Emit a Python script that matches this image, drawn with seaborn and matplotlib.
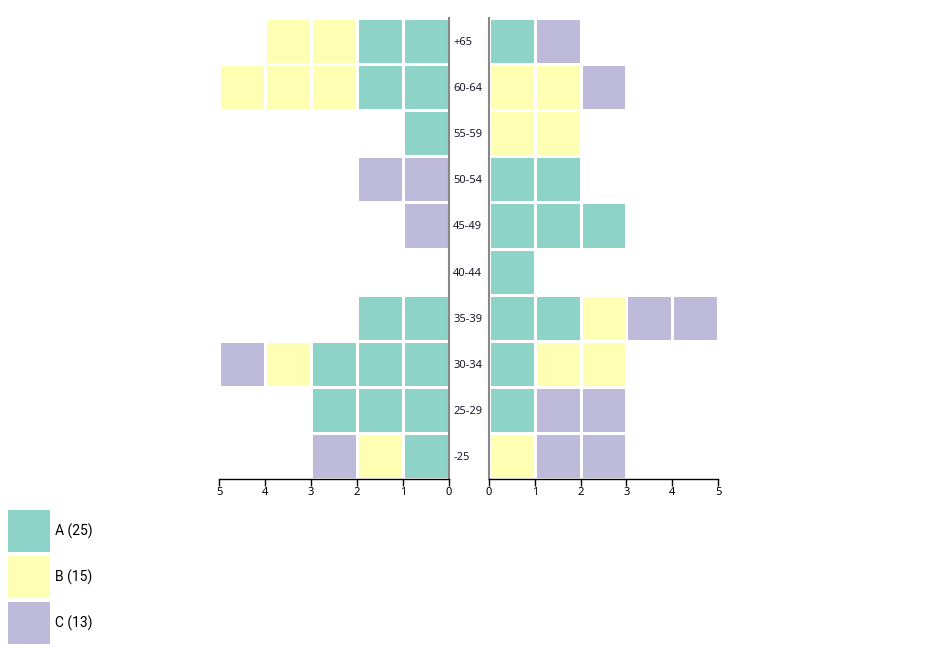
#!/usr/bin/env python3
"""Unit pyramid: counts per age group, one square per person, split left/right."""
import matplotlib
import numpy as np
import pandas as pd

matplotlib.use("Agg")
import matplotlib.pyplot as plt  # noqa: E402
from matplotlib.colors import ListedColormap  # noqa: E402
import seaborn as sns  # noqa: E402

AGE_GROUPS = ["+65", "60-64", "55-59", "50-54", "45-49",
              "40-44", "35-39", "30-34", "25-29", "-25"]
CATEGORIES = ["A", "B", "C"]
# squares per row, listed from the centre line outwards
LEFT_UNITS = [["A", "A", "B", "B"], ["A", "A", "B", "B", "B"], ["A"],
              ["C", "C"], ["C"], [], ["A", "A"], ["A", "A", "A", "B", "C"],
              ["A", "A", "A"], ["A", "B", "C"]]
RIGHT_UNITS = [["A", "C"], ["B", "B", "C"], ["B", "B"], ["A", "A"],
               ["A", "A", "A"], ["A"], ["A", "A", "B", "C", "C"],
               ["A", "B", "B"], ["A", "C", "C"], ["B", "C", "C"]]
MAX_UNITS = 5

sns.set_style("white")
plt.rcParams["font.family"] = ["Noto Sans", "DejaVu Sans"]

colours = sns.color_palette("Set3", 3)
cmap = ListedColormap(colours)
code = {c: i for i, c in enumerate(CATEGORIES)}


def unit_grid(units, mirror):
    grid = np.full((len(units), MAX_UNITS), np.nan)
    for r, row in enumerate(units):
        for i, cat in enumerate(row):
            col = MAX_UNITS - 1 - i if mirror else i
            grid[r, col] = code[cat]
    return pd.DataFrame(grid, index=AGE_GROUPS)


def style_axis(ax, ticklabels, zero_side):
    for side in ("top", "left", "right", "bottom"):
        ax.spines[side].set_visible(False)
    ax.spines["bottom"].set_visible(True)
    ax.spines["bottom"].set_color("black")
    ax.spines["bottom"].set_linewidth(1.0)
    ax.spines[zero_side].set_visible(True)
    ax.spines[zero_side].set_color("#888888")
    ax.spines[zero_side].set_linewidth(1.5)
    ax.set_xticks(range(MAX_UNITS + 1))
    ax.set_xticklabels(ticklabels, rotation=0, fontsize=8, color="black")
    ax.tick_params(axis="x", bottom=True, length=5, width=1, pad=1,
                   color="black")
    ax.set_xlabel("")
    ax.set_ylabel("")


fig = plt.figure(figsize=(9.38, 6.51), dpi=100)
ax_l = fig.add_axes([219 / 938, 172 / 651, 230 / 938, 461 / 651])
ax_r = fig.add_axes([489 / 938, 172 / 651, 229 / 938, 461 / 651])

hm_kw = dict(cmap=cmap, vmin=-0.5, vmax=2.5, cbar=False,
             linewidths=1.0, linecolor="white")
sns.heatmap(unit_grid(LEFT_UNITS, True), ax=ax_l, **hm_kw)
sns.heatmap(unit_grid(RIGHT_UNITS, False), ax=ax_r, **hm_kw)

style_axis(ax_l, [str(MAX_UNITS - i) for i in range(MAX_UNITS + 1)], "right")
style_axis(ax_r, [str(i) for i in range(MAX_UNITS + 1)], "left")

# age labels sit in the gap between the two halves
ax_l.yaxis.tick_right()
ax_l.set_yticklabels(AGE_GROUPS, rotation=0, fontsize=8, color="#1a1a2e")
ax_l.tick_params(axis="y", length=0, pad=3)
for lab in ax_l.get_yticklabels():
    lab.set_horizontalalignment("left")
ax_r.set_yticks([])

# legend: one square per category with its total
totals = {c: sum(row.count(c) for row in LEFT_UNITS + RIGHT_UNITS)
          for c in CATEGORIES}
ax_leg = fig.add_axes([6 / 938, 5 / 651, 46 / 938, 138 / 651])
sns.heatmap(pd.DataFrame({"k": range(len(CATEGORIES))}), ax=ax_leg,
            cmap=cmap, vmin=-0.5, vmax=2.5, cbar=False,
            linewidths=1.5, linecolor="white", xticklabels=False,
            yticklabels=False)
for i, cat in enumerate(CATEGORIES):
    ax_leg.text(1.07, i + 0.5, f"{cat} ({totals[cat]})", va="center",
                ha="left", fontsize=10, family="Roboto", color="black",
                clip_on=False)

fig.savefig("out.png", dpi=100)
